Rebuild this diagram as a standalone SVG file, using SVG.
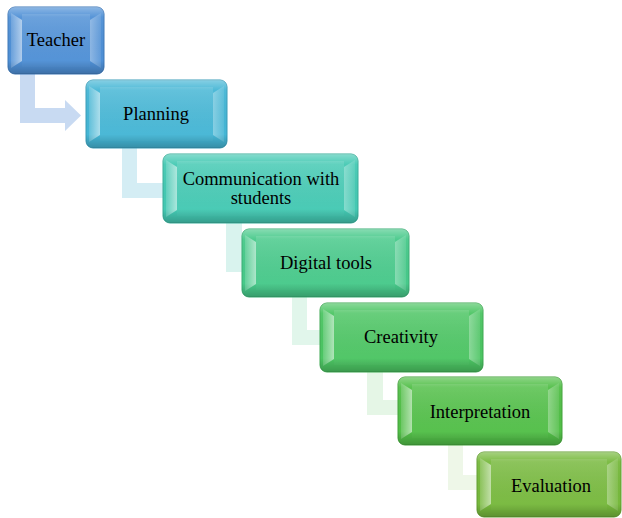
<svg xmlns="http://www.w3.org/2000/svg" width="622" height="518" viewBox="0 0 622 518">
<defs>
<linearGradient id="shade" x1="0" y1="0" x2="0" y2="1">
<stop offset="0" stop-color="#fff" stop-opacity="0.35"/>
<stop offset="0.15" stop-color="#fff" stop-opacity="0.05"/>
<stop offset="0.8" stop-color="#000" stop-opacity="0"/>
<stop offset="1" stop-color="#000" stop-opacity="0.22"/>
</linearGradient>
<linearGradient id="face" x1="0" y1="0" x2="0" y2="1">
<stop offset="0" stop-color="#fff" stop-opacity="0.12"/>
<stop offset="1" stop-color="#fff" stop-opacity="0.02"/>
</linearGradient>
<linearGradient id="lh" x1="0" y1="0" x2="1" y2="0">
<stop offset="0" stop-color="#fff" stop-opacity="0.15"/>
<stop offset="1" stop-color="#fff" stop-opacity="0.55"/>
</linearGradient>
<linearGradient id="rh" x1="0" y1="0" x2="1" y2="0">
<stop offset="0" stop-color="#fff" stop-opacity="0.35"/>
<stop offset="1" stop-color="#fff" stop-opacity="0.1"/>
</linearGradient>
</defs>
<style>
text{font-family:'Liberation Serif','DejaVu Serif','Times New Roman',serif;font-size:18.5px;fill:#000;text-anchor:middle}
.sh{fill:url(#shade)}
.fc{fill:url(#face)}
.lh{fill:url(#lh)}
.rh{fill:url(#rh)}
</style>
<g id="connectors">
<path d="M20,74 H35 V108 H65 V100 L81,115.5 L65,131 V123 H20 Z" fill="#c8daf2"/>
<path d="M122,148 H137 V183 H170 V198 H122 Z" fill="#d4edf4"/>
<path d="M226,223 H242 V257 H250 V272 H226 Z" fill="#d9f3ee"/>
<path d="M292,297 H307 V330 H328 V345 H292 Z" fill="#e1f6eb"/>
<path d="M367,372 H383 V400 H405 V415 H367 Z" fill="#e5f6e6"/>
<path d="M448,445 H463 V475 H485 V490 H448 Z" fill="#eef7e8"/>
</g>
<g id="teacher">
<rect x="8" y="7" width="96" height="67" rx="7" fill="#4f90d6" stroke="#3f78b8" stroke-width="1"/>
<rect x="8" y="7" width="96" height="67" rx="7" class="sh"/>
<rect x="22" y="14" width="68" height="53" class="fc"/>
<polygon points="11,13 22,20 22,61 11,68" class="lh"/>
<polygon points="90,20 101,13 101,68 90,61" class="rh"/>
<text x="56" y="46">Teacher</text>
</g>
<g id="planning">
<rect x="86" y="80" width="141" height="68" rx="7" fill="#45b6d5" stroke="#3a9cb8" stroke-width="1"/>
<rect x="86" y="80" width="141" height="68" rx="7" class="sh"/>
<rect x="100" y="87" width="113" height="54" class="fc"/>
<polygon points="89,86 100,93 100,135 89,142" class="lh"/>
<polygon points="213,93 224,86 224,142 213,135" class="rh"/>
<text x="156" y="120">Planning</text>
</g>
<g id="communication">
<rect x="163" y="154" width="195" height="69" rx="7" fill="#44c9b3" stroke="#38ad99" stroke-width="1"/>
<rect x="163" y="154" width="195" height="69" rx="7" class="sh"/>
<rect x="177" y="161" width="167" height="55" class="fc"/>
<polygon points="166,160 177,167 177,210 166,217" class="lh"/>
<polygon points="344,167 355,160 355,217 344,210" class="rh"/>
<text x="261" y="185">Communication with</text>
<text x="261" y="204">students</text>
</g>
<g id="digital-tools">
<rect x="242" y="229" width="167" height="68" rx="7" fill="#47c98a" stroke="#3aad74" stroke-width="1"/>
<rect x="242" y="229" width="167" height="68" rx="7" class="sh"/>
<rect x="256" y="236" width="139" height="54" class="fc"/>
<polygon points="245,235 256,242 256,284 245,291" class="lh"/>
<polygon points="395,242 406,235 406,291 395,284" class="rh"/>
<text x="326" y="269">Digital tools</text>
</g>
<g id="creativity">
<rect x="320" y="303" width="163" height="69" rx="7" fill="#4cc563" stroke="#3ea952" stroke-width="1"/>
<rect x="320" y="303" width="163" height="69" rx="7" class="sh"/>
<rect x="334" y="310" width="135" height="55" class="fc"/>
<polygon points="323,309 334,316 334,359 323,366" class="lh"/>
<polygon points="469,316 480,309 480,366 469,359" class="rh"/>
<text x="401" y="343">Creativity</text>
</g>
<g id="interpretation">
<rect x="398" y="377" width="164" height="68" rx="7" fill="#52bf48" stroke="#42a23a" stroke-width="1"/>
<rect x="398" y="377" width="164" height="68" rx="7" class="sh"/>
<rect x="412" y="384" width="136" height="54" class="fc"/>
<polygon points="401,383 412,390 412,432 401,439" class="lh"/>
<polygon points="548,390 559,383 559,439 548,432" class="rh"/>
<text x="480" y="418">Interpretation</text>
</g>
<g id="evaluation">
<rect x="477" y="452" width="144" height="65" rx="7" fill="#77b93d" stroke="#639e30" stroke-width="1"/>
<rect x="477" y="452" width="144" height="65" rx="7" class="sh"/>
<rect x="491" y="459" width="116" height="51" class="fc"/>
<polygon points="480,458 491,465 491,504 480,511" class="lh"/>
<polygon points="607,465 618,458 618,511 607,504" class="rh"/>
<text x="551" y="492">Evaluation</text>
</g>
</svg>
